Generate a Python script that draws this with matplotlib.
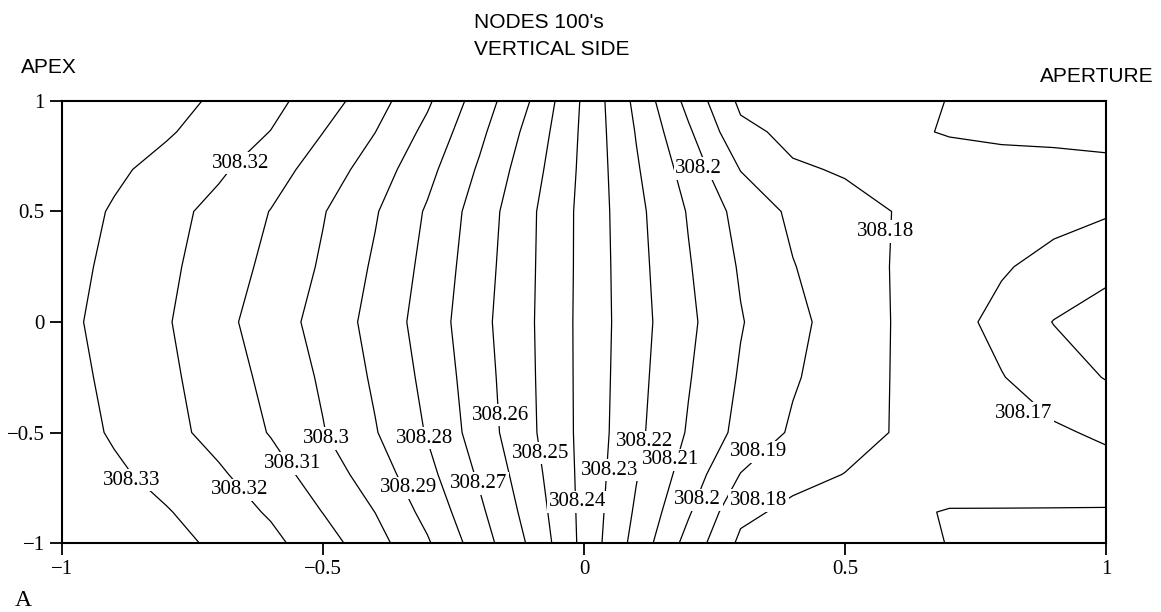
import numpy as np
import matplotlib
matplotlib.use("Agg")
import matplotlib.pyplot as plt

# node positions along the side (x) and across it (y)
x_nodes = [-1.0, -0.9, -0.8, -0.7, -0.6, -0.5, -0.4, -0.3, -0.2, -0.1, 0.0,
           0.1, 0.2, 0.3, 0.4, 0.5, 0.6, 0.7, 0.8, 0.9, 1.0]
y_nodes = [-1.0, -0.86, -0.69, -0.5, -0.25, 0.0, 0.25, 0.5, 0.69, 0.86, 1.0]

# nodal temperatures, one row per y node (bottom to top)
temps = [
    [308.344, 308.3387, 308.3334, 308.3280, 308.3225, 308.3142, 308.3037, 308.2911, 308.2749, 308.2580, 308.2371,
     308.2165, 308.1965, 308.1780, 308.1755, 308.1740, 308.1720, 308.1698, 308.1680, 308.1666, 308.1650],
    [308.342, 308.3364, 308.3307, 308.3250, 308.3189, 308.3098, 308.2999, 308.2870, 308.2719, 308.2557, 308.2371,
     308.2186, 308.2011, 308.1823, 308.1777, 308.1751, 308.1725, 308.1692, 308.1693, 308.1694, 308.1695],
    [308.337, 308.3318, 308.3266, 308.3214, 308.3142, 308.3053, 308.2950, 308.2829, 308.2686, 308.2535, 308.2371,
     308.2206, 308.2055, 308.1897, 308.1830, 308.1798, 308.1785, 308.1772, 308.1760, 308.1747, 308.1735],
    [308.335, 308.3288, 308.3231, 308.3167, 308.3094, 308.3005, 308.2906, 308.2793, 308.2653, 308.2514, 308.2371,
     308.2224, 308.2091, 308.1971, 308.1887, 308.1837, 308.1793, 308.1766, 308.1740, 308.1713, 308.1685],
    [308.3335, 308.3277, 308.3220, 308.3151, 308.3073, 308.2986, 308.2885, 308.2774, 308.2642, 308.2510, 308.2371,
     308.2231, 308.2107, 308.1990, 308.1910, 308.1849, 308.1792, 308.1748, 308.1704, 308.1650, 308.1595],
    [308.3324, 308.3266, 308.3208, 308.3134, 308.3045, 308.2967, 308.2866, 308.2757, 308.2630, 308.2507, 308.2371,
     308.2237, 308.2121, 308.2006, 308.1926, 308.1856, 308.1792, 308.1735, 308.1671, 308.1597, 308.1550],
    [308.3335, 308.3277, 308.3220, 308.3152, 308.3075, 308.2987, 308.2886, 308.2772, 308.2642, 308.2510, 308.2372,
     308.2232, 308.2108, 308.1990, 308.1904, 308.1846, 308.1792, 308.1751, 308.1710, 308.1668, 308.1630],
    [308.335, 308.3290, 308.3233, 308.3170, 308.3097, 308.3006, 308.2908, 308.2789, 308.2655, 308.2513, 308.2372,
     308.2226, 308.2093, 308.1966, 308.1881, 308.1825, 308.1797, 308.1776, 308.1754, 308.1732, 308.1710],
    [308.337, 308.3318, 308.3267, 308.3216, 308.3143, 308.3054, 308.2952, 308.2829, 308.2687, 308.2537, 308.2376,
     308.2211, 308.2059, 308.1897, 308.1810, 308.1793, 308.1779, 308.1764, 308.1749, 308.1735, 308.1720],
    [308.342, 308.3365, 308.3311, 308.3255, 308.3198, 308.3101, 308.3001, 308.2874, 308.2722, 308.2564, 308.2379,
     308.2195, 308.2015, 308.1824, 308.1777, 308.1751, 308.1725, 308.1690, 308.1675, 308.1675, 308.1675],
    [308.344, 308.3388, 308.3336, 308.3283, 308.3229, 308.3147, 308.3040, 308.2915, 308.2754, 308.2594, 308.2383,
     308.2176, 308.1970, 308.1780, 308.1755, 308.1740, 308.1720, 308.1698, 308.1682, 308.1666, 308.1650],
]

levels = [308.16, 308.17, 308.18, 308.19, 308.20, 308.21, 308.22, 308.23, 308.24,
          308.25, 308.26, 308.27, 308.28, 308.29, 308.30, 308.31, 308.32, 308.33]

# hand placed contour labels
label_levels = [308.32, 308.33, 308.32, 308.31, 308.30, 308.29, 308.28, 308.27, 308.26, 308.25,
                308.24, 308.23, 308.22, 308.21, 308.20, 308.20, 308.19, 308.18, 308.18, 308.17]
label_x = [-0.657, -0.866, -0.660, -0.558, -0.493, -0.337, -0.305, -0.202, -0.160, -0.084,
           -0.013, 0.050, 0.116, 0.166, 0.220, 0.218, 0.334, 0.334, 0.578, 0.842]
label_y = [0.718, -0.715, -0.760, -0.640, -0.527, -0.751, -0.525, -0.730, -0.421, -0.594,
           -0.813, -0.670, -0.542, -0.624, 0.695, -0.805, -0.587, -0.808, 0.409, -0.413]

x_ticks = [-1, -0.5, 0, 0.5, 1]
x_tick_labels = ["\u22121", "\u22120.5", "0", "0.5", "1"]
y_ticks = [-1, -0.5, 0, 0.5, 1]
y_tick_labels = ["\u22121", "\u22120.5", "0", "0.5", "1"]

SERIF = "Liberation Serif"
SANS = "Liberation Sans"

fig = plt.figure(figsize=(11.61, 6.12), dpi=100)
ax = fig.add_axes([0.0534, 0.1127, 0.8992, 0.7223])

X, Y = np.meshgrid(x_nodes, y_nodes)
Z = np.array(temps)
ax.contour(X, Y, Z, levels=levels, colors="k", linewidths=0.9)

for lev, lx, ly in zip(label_levels, label_x, label_y):
    ax.text(lx, ly, f"{lev:g}", ha="center", va="center", fontsize=15,
            family=SERIF, zorder=5,
            bbox=dict(boxstyle="square,pad=0.08", fc="white", ec="none"))

ax.set_xlim(-1, 1)
ax.set_ylim(-1, 1)
ax.set_xticks(x_ticks)
ax.set_xticklabels(x_tick_labels, family=SERIF, fontsize=15)
ax.set_yticks(y_ticks)
ax.set_yticklabels(y_tick_labels, family=SERIF, fontsize=15)
ax.tick_params(direction="out", length=8.5, width=1.3, pad=4)
for sp in ax.spines.values():
    sp.set_linewidth(1.5)

fig.text(474 / 1161, 1 - 28 / 612, "NODES 100's", family=SANS, fontsize=15,
         ha="left", va="baseline")
fig.text(474 / 1161, 1 - 55 / 612, "VERTICAL SIDE", family=SANS, fontsize=15,
         ha="left", va="baseline")
fig.text(21 / 1161, 1 - 73 / 612, "APEX", family=SANS, fontsize=15,
         ha="left", va="baseline")
fig.text(1040 / 1161, 1 - 81.5 / 612, "APERTURE", family=SANS, fontsize=15,
         ha="left", va="baseline")
fig.text(15 / 1161, 1 - 606 / 612, "A", family=SERIF, fontsize=17,
         ha="left", va="baseline")

fig.savefig("out.png", dpi=100)
